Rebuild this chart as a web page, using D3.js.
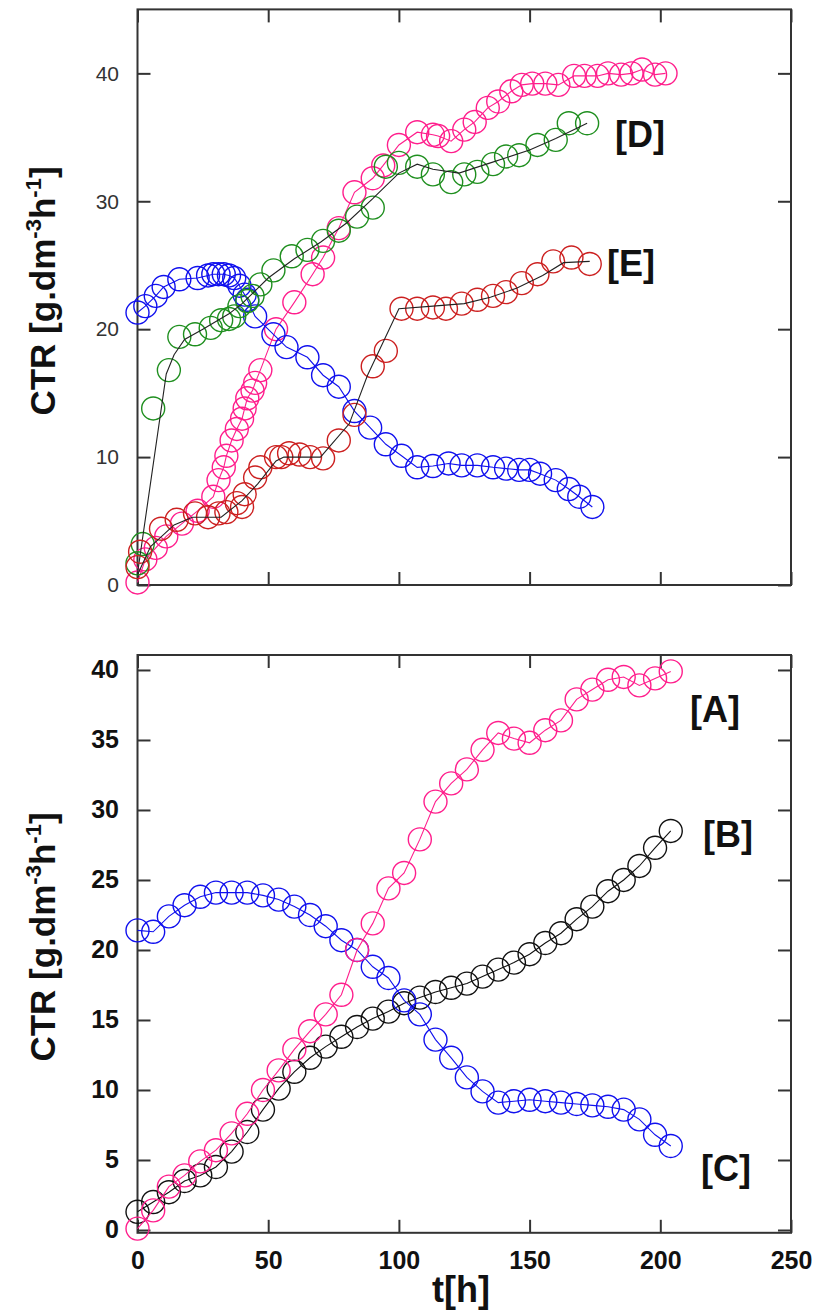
<!DOCTYPE html>
<html>
<head>
<meta charset="utf-8">
<script src="https://cdn.jsdelivr.net/npm/d3@7"></script>
<style>
  body { margin: 0; background: #fff; }
  svg { display: block; }
</style>
</head>
<body>
<div id="chart"></div>
<script>
var width = 813;
var height = 1314;

// ---- top panel data ----
var tP = [0,3,7,11,17,23,29,31,33,34,36,38,40,41,42,44,45,47,53,60,67,71,77,83,90,94,100,107,113,115,120,125,129,134,138,143,147,151,156,161,167,171,176,180,185,189,193,198,202];
var vP = [0.2,2.0,2.9,3.8,4.8,5.8,6.9,8.2,9.2,10.1,11.3,12.2,13.0,13.8,14.6,15.2,15.8,16.8,20.0,22.1,24.3,25.6,27.9,30.7,31.8,32.8,34.4,35.4,35.2,35.1,34.7,35.6,36.2,37.3,37.8,38.6,39.1,39.2,39.2,39.1,39.8,39.8,39.8,40.0,39.9,40.0,40.3,39.9,40.0];

var tBt = [0,3,7,10,16,23,27,29,31,33,35,37,39,41,42,45,52,57,65,71,77,83,89,95,101,107,113,119,124,130,136,141,146,150,154,160,165,169,174];
var vBt = [21.3,21.8,22.6,23.3,23.9,24.0,24.2,24.3,24.3,24.3,24.2,24.0,23.4,22.7,22.3,21.0,19.6,18.6,17.8,16.4,15.5,13.6,12.3,11.0,10.1,9.2,9.3,9.5,9.35,9.35,9.2,9.1,9.0,9.0,8.7,8.2,7.5,6.9,6.1];

var tD = [0,2,6,12,16,22,28,32,35,37,39,42,44,47,52,59,65,71,77,84,90,95,100,107,113,120,125,130,136,141,146,153,160,165,172];
var vD = [1.7,3.2,13.8,16.8,19.4,19.6,20.1,20.7,20.8,21.0,21.8,22.2,22.6,23.5,24.6,25.7,26.2,26.9,27.7,28.8,29.5,32.7,33.0,32.7,32.1,31.5,32.1,32.3,32.9,33.5,33.6,34.4,34.8,36.1,36.1];
var tDfit = [0,11,14,18,25,30,35,40,45,50,60,70,80,90,100,107,113,123,135,150,160,172];
var vDfit = [0.9,16.5,18.0,19.2,20.0,20.6,21.2,22.0,23.0,24.0,25.5,26.8,28.3,30.2,32.2,32.9,32.5,32.2,33.0,34.0,34.9,36.1];

var tE = [0,1,9,15,22,27,31,34,38,40,41,45,47,53,55,58,62,66,71,77,83,90,95,101,107,113,118,124,130,136,141,147,153,159,166,173];
var vE = [1.4,2.6,4.4,5.1,5.6,5.3,5.6,5.7,6.4,6.1,7.1,8.4,9.2,10.0,10.0,10.3,10.2,10.0,9.9,11.3,13.3,17.1,18.3,21.6,21.6,21.7,21.6,22.0,22.3,22.6,22.9,23.6,24.3,25.3,25.6,25.1];
var tEfit = [0,5,14,21,32,40,46,53,56,70,81,88,100,113,125,135,145,155,163,173];
var vEfit = [0.8,3.0,4.7,5.3,5.3,6.6,7.9,9.7,10.0,10.0,12.6,16.4,21.6,21.8,22.0,22.5,23.2,24.2,25.2,25.3];

// ---- bottom panel data ----
var tAll = [0,6,12,18,24,30,36,42,48,54,60,66,72,78,84,90,96,102,108,114,120,126,132,138,144,150,156,162,168,174,180,186,192,198,204];
var vA = [0.1,1.4,3.1,3.9,4.9,5.7,6.9,8.3,10.0,11.4,12.9,14.2,15.4,16.8,20.0,21.9,24.4,25.5,27.9,30.6,31.9,32.9,34.3,35.5,35.1,34.8,35.7,36.4,37.9,38.6,39.3,39.5,38.9,39.4,39.9];
var vB = [1.3,2.0,2.7,3.5,3.9,4.5,5.6,7.0,8.6,10.1,11.3,12.3,13.1,13.8,14.5,15.1,15.6,16.2,16.6,17.0,17.3,17.6,18.1,18.6,19.1,19.7,20.5,21.2,22.2,23.1,24.2,25.0,26.0,27.3,28.5];
var vC = [21.4,21.3,22.4,23.2,23.8,24.1,24.1,24.1,23.9,23.6,23.1,22.5,21.7,20.7,20.0,18.8,18.0,16.4,15.4,13.6,12.3,10.9,9.9,9.1,9.2,9.3,9.2,9.1,9.0,8.9,8.8,8.6,7.9,6.8,6.0];

var xTicks = [0,50,100,150,200,250];
var yTicksTop = [0,10,20,30,40];
var yTicksBot = [0,5,10,15,20,25,30,35,40];

var pink = "#ff1e8c", blue = "#1010ee", green = "#1f8f1f", red = "#cc2020", black = "#111";
var font = "'Liberation Sans', Arial, sans-serif";

var svg = d3.select("#chart").append("svg")
  .attr("width", width)
  .attr("height", height);
svg.append("rect").attr("width", width).attr("height", height).attr("fill", "#fff");

var x = d3.scaleLinear().domain([0, 250]).range([137.5, 791]);
var yTop = d3.scaleLinear().domain([0, 45]).range([585, 9.4]);
var yBot = d3.scaleLinear().domain([-0.2, 41.07]).range([1232.8, 655]);

function zip(t, v) { return t.map(function(d, i) { return [d, v[i]]; }); }

function drawPanel(y, yTicks, bold, labelX) {
  var g = svg.append("g");
  var x0 = x.range()[0], x1 = x.range()[1];
  var yb = y.range()[0], yt = y.range()[1];

  // ticks on all sides, pointing in
  var left = g.append("g").attr("transform", "translate(" + x0 + ",0)")
    .call(d3.axisLeft(y).tickValues(yTicks).tickSize(-13).tickPadding(18.5));
  g.append("g").attr("transform", "translate(" + x1 + ",0)")
    .call(d3.axisRight(y).tickValues(yTicks).tickSize(-13).tickFormat(""));
  var bottom = g.append("g").attr("transform", "translate(0," + yb + ")")
    .call(d3.axisBottom(x).tickValues(xTicks).tickSize(-13).tickPadding(labelX ? 18 : 0));
  g.append("g").attr("transform", "translate(0," + yt + ")")
    .call(d3.axisTop(x).tickValues(xTicks).tickSize(-13).tickFormat(""));

  g.selectAll(".domain").remove();
  g.selectAll(".tick line").attr("stroke", "#333").attr("stroke-width", 2);

  left.selectAll("text")
    .attr("font-family", font)
    .attr("font-size", bold ? 25 : 21)
    .attr("font-weight", bold ? "bold" : "normal")
    .attr("fill", bold ? "#111" : "#333");

  if (labelX) {
    bottom.selectAll("text")
      .attr("font-family", font)
      .attr("font-size", 25)
      .attr("font-weight", "bold")
      .attr("fill", "#111");
  } else {
    bottom.selectAll("text").remove();
  }

  g.append("rect")
    .attr("x", x0).attr("y", yt)
    .attr("width", x1 - x0).attr("height", yb - yt)
    .attr("fill", "none").attr("stroke", "#333").attr("stroke-width", 2);
  return g;
}

function drawLine(y, t, v, color) {
  var line = d3.line().x(function(d) { return x(d[0]); }).y(function(d) { return y(d[1]); });
  svg.append("path")
    .datum(zip(t, v))
    .attr("d", line)
    .attr("fill", "none")
    .attr("stroke", color)
    .attr("stroke-width", 1.1);
}

function drawMarkers(y, t, v, color) {
  svg.append("g").selectAll("circle")
    .data(zip(t, v))
    .enter().append("circle")
    .attr("cx", function(d) { return x(d[0]); })
    .attr("cy", function(d) { return y(d[1]); })
    .attr("r", 11.5)
    .attr("fill", "none")
    .attr("stroke", color)
    .attr("stroke-width", 1.4);
}

// top panel
drawPanel(yTop, yTicksTop, false, false);
drawLine(yTop, tP, vP, pink);
drawMarkers(yTop, tP, vP, pink);
drawLine(yTop, tBt, vBt, blue);
drawMarkers(yTop, tBt, vBt, blue);
drawMarkers(yTop, tD, vD, green);
drawLine(yTop, tDfit, vDfit, "#222");
drawMarkers(yTop, tE, vE, red);
drawLine(yTop, tEfit, vEfit, "#222");

// bottom panel
drawPanel(yBot, yTicksBot, true, true);
drawLine(yBot, tAll, vB, black);
drawMarkers(yBot, tAll, vB, black);
drawLine(yBot, tAll, vC, blue);
drawMarkers(yBot, tAll, vC, blue);
drawLine(yBot, tAll, vA, pink);
drawMarkers(yBot, tAll, vA, pink);

// series tags
var tags = [
  {text: "[D]", x: 615, y: 147},
  {text: "[E]", x: 607, y: 276},
  {text: "[A]", x: 690, y: 722},
  {text: "[B]", x: 703, y: 847},
  {text: "[C]", x: 701, y: 1181}
];
svg.selectAll("text.tag")
  .data(tags)
  .enter().append("text")
  .attr("class", "tag")
  .attr("x", function(d) { return d.x; })
  .attr("y", function(d) { return d.y; })
  .attr("font-family", font)
  .attr("font-size", 36)
  .attr("font-weight", "bold")
  .attr("fill", "#111")
  .text(function(d) { return d.text; });

// axis titles
function yTitle(cy) {
  var t = svg.append("text")
    .attr("transform", "translate(55," + cy + ") rotate(-90)")
    .attr("text-anchor", "middle")
    .attr("font-family", font)
    .attr("font-size", 35)
    .attr("font-weight", "bold")
    .attr("fill", "#111");
  t.append("tspan").text("CTR [g.dm");
  t.append("tspan").attr("dy", -14).attr("font-size", 22).text("-3");
  t.append("tspan").attr("dy", 14).text("h");
  t.append("tspan").attr("dy", -14).attr("font-size", 22).text("-1");
  t.append("tspan").attr("dy", 14).text("]");
}
yTitle(291);
yTitle(937);

svg.append("text")
  .attr("x", 461).attr("y", 1302)
  .attr("text-anchor", "middle")
  .attr("font-family", font)
  .attr("font-size", 36)
  .attr("font-weight", "bold")
  .attr("fill", "#111")
  .text("t[h]");
</script>
</body>
</html>
